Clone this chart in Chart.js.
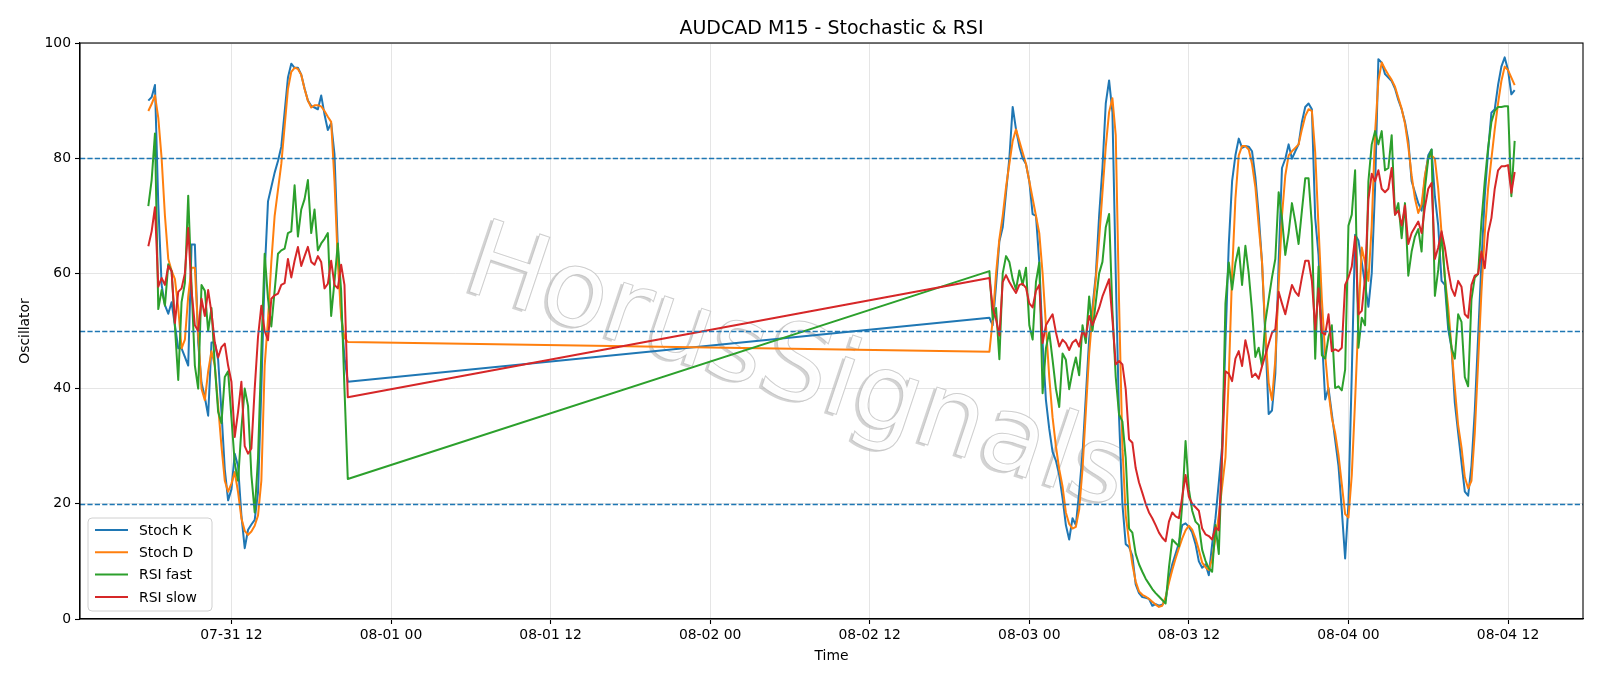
<!DOCTYPE html>
<html>
<head>
<meta charset="utf-8">
<script src="https://cdn.jsdelivr.net/npm/chart.js@4.4.0/dist/chart.umd.min.js"></script>
<style>
  html, body { margin: 0; padding: 0; background: #fff; }
  #wrap { width: 1600px; height: 686px; }
</style>
</head>
<body>
<div id="wrap"><canvas id="chart" width="1600" height="686"></canvas></div>
<script>
// time axis in hours from 07-31 00:00, M15 bars
const start1 = 5.75;   // 07-31 05:45
const start2 = 69;     // 08-02 21:00
const step = 0.25;

const tickHours = [12, 24, 36, 48, 60, 72, 84, 96, 108];
const tickLabels = ['07-31 12', '08-01 00', '08-01 12', '08-02 00', '08-02 12', '08-03 00', '08-03 12', '08-04 00', '08-04 12'];
const levels = [20, 50, 80];

const seriesNames = ['Stoch K', 'Stoch D', 'RSI fast', 'RSI slow'];
const seriesColors = ['#1f77b4', '#ff7f0e', '#2ca02c', '#d62728'];

// segment 1 : 07-31 05:45 -> 20:45
const stochK1 = [90.0,90.6,92.7,72,58,54.5,53,55,51,47,
  47,45.5,44,65,65,48,41,38.5,35.3,48,
  48,45,36,26,20.6,22.5,28.7,26.5,18,12.3,
  15.5,16.4,17.2,22,40,60,72.5,75,77.5,79.5,
  82,88,94,96.4,95.7,95.7,94.5,92.1,90,89.1,
  88.8,88.5,90.9,87.6,84.9,86.1,80.7,64.6,53.2,45.4,
  41.2];
const stochD1 = [88.2,89.4,90.9,87,80,70,62.5,60.5,59,54,
  47,48.5,56,61,61,49.6,40,38,43,46.5,
  44,37,30,24,22.1,23.5,25.5,22,17.5,15.3,
  14.6,15.2,16.2,18,24,44,52,62,70,74.5,
  79,85.5,92,95,95.7,95.5,94.5,92,90,88.8,
  89.2,89.2,89,88.2,87.2,86.3,76,62,52.5,48.8,
  48.1];
const rsiFast1 = [71.7,76.2,84.3,53.8,57.1,54.4,61.6,60.4,50.8,41.5,
  55,58.3,73.5,58,44,40,58,57,50,54,
  44,36,34,42,43,35,27,24,33,40,
  37,25,18.5,28,46.6,63.4,55.6,50.8,57,63.4,
  64,64.3,67,67.3,75.3,66.4,71.1,72.9,76.2,67,
  71.1,64,65.2,66,67,52.6,58.6,65.2,57,40,
  24.3];
const rsiSlow1 = [64.7,67.3,71.5,57.7,59.2,58,61.3,60.4,51.4,56.8,
  57.4,60,67.9,57,51,50,55.6,52.6,57.1,53.2,
  48,45.4,47.2,47.8,44,41.2,31.6,36,41.2,30,
  28.7,29.6,40,49,54.4,50,48.4,55.6,56.2,56.5,
  58,58.3,62.5,59.3,62.2,64.6,61.3,63,64.6,62,
  61.5,63,62,57.4,58.2,62.2,58,57.4,61.5,58,
  38.5];

// segment 2 : 08-02 21:00 -> 08-04 12:30
const stochK2 = [52.3,51,58,65.6,68,74,80,88.9,85,82,
  80,79,76,70.3,70,62,48,38,33,29,
  27.5,25,21,16.3,13.8,17.5,16.3,22,28.7,38.6,
  48.6,54.1,59.7,70,78.3,89.5,93.5,88,60,35,
  20,13,12.5,11,6,4.5,3.8,3.7,3.5,2.3,
  2.6,2.3,2.5,3.3,7,9.5,11.3,13.2,16.3,16.6,
  16,15,13,10,8.9,9.5,7.6,13,17.5,23.7,
  30,48,65,76,80.5,83.4,81.8,82.1,82,81.2,
  76.7,70.2,61.9,49,35.6,36.2,42.6,61.9,78.3,79.9,
  82.4,79.9,81.2,82.4,86.3,88.9,89.5,88.5,69.6,63.2,
  49,38.1,40.1,35.6,31.1,26.6,18.9,10.5,20.1,42.6,
  66.7,65.7,62,58,54.2,60,74.7,97.2,96.6,94.6,
  94,93.4,92.1,90.1,88.5,86.3,83.1,76,74.1,72.2,
  70.9,76.7,80.5,81.5,73.4,68.3,58.7,58,50.3,47.1,
  37.5,32.3,27.2,22.1,21.4,26.6,36.2,49,61.9,73.4,
  81.2,87.9,88.5,92.7,95.9,97.5,95.3,91.1,91.8];
const stochD2 = [46.4,52,60,66,70,75,79,83,85,83,
  81,79,76,73,70,67,60,51,42,35,
  30,26,23,18.5,16.5,15.7,16,19,26,36,
  46,53,59,66,74,82,88,90.4,84,55,
  30,18,13.5,9.5,6.5,4.8,4.2,3.9,3.5,3,
  2.5,2.1,2.3,3.8,6.3,8.5,10.5,12.3,14,15.4,
  16.2,15.5,14,12,9.8,9,8.5,10.5,14,18,
  23,28,42,60,73,80.5,82.1,82.1,81.5,79,
  75,68.3,62,50,41,38,45,58,70,77,
  80.5,81.2,81.8,82.4,85,87.3,88.5,88.2,81,68,
  55.5,45.8,39.4,34.9,32.3,28.5,23.4,18.2,17.6,25,
  38,52,64.5,61.9,58.7,68.3,84.4,93.4,96.6,95.5,
  94.5,93.6,92.4,90.5,88.6,86,82,77,73,70.5,
  72,77,80,80.5,79.9,74.7,67,59.3,54.2,47.1,
  40.1,33.6,29.8,24.6,22.7,24,32.3,44.5,56.8,67,
  74.7,79.9,85,89.5,93.4,95.9,95.3,94,92.7];
const rsiFast2 = [60.4,52,54,45.1,60,63,62,59,57.2,60.5,
  58,61,51,48.5,58.5,61.9,39.2,47,49.8,45,
  40,36.8,46.1,45,39.9,43,45.4,42.3,51,47.9,
  56,50,55,60,62,68,70.3,53.5,42,35.5,
  34.3,28,15.7,15,11.3,9.5,8.2,7,6.1,5.2,
  4.5,3.9,3.3,2.7,8.9,13.8,13.2,12.6,20,30.9,
  22.5,18.8,16.9,16.3,12,10.1,8.8,8.2,16.3,11.3,
  28.7,54.8,61.9,57.2,61.8,64.5,58,64.8,60,53.5,
  45.5,47.1,43.9,51.6,55.5,59.3,62.5,74.1,69.6,63.2,
  67,72.2,69,65.1,70.9,76.5,76.5,68.3,45.2,61.2,
  45.8,45.2,49,51,40.1,40.4,39.7,43.3,68.3,70.2,
  77.9,47.1,52.3,51,76,82.4,84.7,82.4,84.7,77.9,
  78.3,84,70.2,72.2,66.1,72.2,59.6,63.8,66.4,67.7,
  63.8,74.7,79.9,81.5,56.1,60.6,67,59.3,51.6,47.1,
  45.2,52.9,51.6,42,40.4,55.5,59.3,59.9,69,76,
  81.8,86.3,88.2,88.9,88.9,89,89,73.4,83];
const rsiSlow2 = [59.2,54,52,49.2,58.5,59.7,58.5,57.5,56.6,58,
  58.2,57.5,54.8,54.1,57,58,47.9,51,52,52.9,
  49.8,47.3,48.5,47.9,46.7,48,48.5,47.3,50,49,
  52.6,51,52.5,54,56,57.5,59,52,44.2,44.8,
  44.2,39.9,31.2,30.6,26.2,23.7,21.9,20,18.5,17.5,
  16.3,15,14.1,13.5,16.9,18.5,17.8,17.5,21.2,25,
  21.2,20,19.4,18.8,15.7,14.7,14.4,13.8,15.9,15.4,
  28.7,43,42.6,41.3,45.2,46.5,43.9,48.4,45.8,42,
  42.6,41.7,43.9,45.8,47.8,49.7,50.3,56.8,54.8,52.9,
  55.5,58,56.8,56.1,59.3,62.2,62.2,58.7,50.3,57.4,
  49.7,49.4,52.9,46.5,46.8,46.5,47.1,58,59.3,61.2,
  66.4,52.9,53.5,59.3,72.8,77.3,76,77.9,74.7,74.1,
  74.7,78.3,70.2,70.9,68.3,71.8,65.1,67,68,69,
  67,71.5,74.7,75.7,62.5,64.5,67.3,64.5,60.6,57.4,
  56.1,58.7,57.7,52.9,52.3,58,59.6,59.9,63.8,60.9,
  67,69.6,74.7,77.9,78.6,78.6,78.8,74,77.6];

const FONT = 'DejaVu Sans';

function buildPoints(s1, s2) {
  const pts = [];
  s1.forEach((v, i) => pts.push({ x: start1 + i * step, y: v }));
  s2.forEach((v, i) => pts.push({ x: start2 + i * step, y: v }));
  return pts;
}

const seriesData = [
  buildPoints(stochK1, stochK2),
  buildPoints(stochD1, stochD2),
  buildPoints(rsiFast1, rsiFast2),
  buildPoints(rsiSlow1, rsiSlow2)
];

// matplotlib style 5% margins on x
const firstX = start1;
const lastX = start2 + (stochK2.length - 1) * step;
const xMin = firstX - 0.05 * (lastX - firstX);
const xMax = lastX + 0.05 * (lastX - firstX);

// watermark under the lines
const watermark = {
  id: 'watermark',
  beforeDatasetsDraw(chart) {
    const c = chart.ctx;
    c.save();
    c.translate(796, 372);
    c.rotate(18.5 * Math.PI / 180);
    c.font = '106px ' + FONT;
    c.textAlign = 'center';
    c.textBaseline = 'middle';
    c.fillStyle = 'rgba(175,175,175,0.55)';
    c.fillText('HorusSignals', -2.5, 2.5);
    c.fillStyle = 'rgba(255,255,255,0.95)';
    c.fillText('HorusSignals', 0, 0);
    c.strokeStyle = 'rgba(185,185,185,0.7)';
    c.lineWidth = 1;
    c.strokeText('HorusSignals', 0, 0);
    c.restore();
  }
};

// dashed levels, frame, title, legend
const extras = {
  id: 'extras',
  afterDatasetsDraw(chart) {
    const c = chart.ctx;
    const a = chart.chartArea;
    const y = chart.scales.y;
    c.save();
    c.strokeStyle = '#1f77b4';
    c.lineWidth = 1.4;
    c.setLineDash([5.2, 2.2]);
    levels.forEach(v => {
      const py = Math.round(y.getPixelForValue(v)) + 0.5;
      c.beginPath();
      c.moveTo(a.left, py);
      c.lineTo(a.right, py);
      c.stroke();
    });
    c.restore();
  },
  afterDraw(chart) {
    const c = chart.ctx;
    const a = chart.chartArea;
    c.save();
    // frame
    c.strokeStyle = '#000';
    c.lineWidth = 1.1;
    c.strokeRect(a.left, a.top, a.right - a.left, a.bottom - a.top);
    // title
    c.fillStyle = '#000';
    c.font = '19px ' + FONT;
    c.textAlign = 'center';
    c.textBaseline = 'alphabetic';
    c.fillText('AUDCAD M15 - Stochastic & RSI', (a.left + a.right) / 2, 33.5);
    // legend
    const bx = a.left + 8, by = a.bottom - 101, bw = 124, bh = 93;
    c.beginPath();
    c.roundRect(bx, by, bw, bh, 4);
    c.fillStyle = 'rgba(255,255,255,0.8)';
    c.fill();
    c.strokeStyle = '#d0d0d0';
    c.lineWidth = 1;
    c.stroke();
    c.font = '13.9px ' + FONT;
    c.textAlign = 'left';
    c.textBaseline = 'middle';
    seriesNames.forEach((name, i) => {
      const ly = by + 12 + i * 22.3;
      c.strokeStyle = seriesColors[i];
      c.lineWidth = 2;
      c.beginPath();
      c.moveTo(bx + 7, ly);
      c.lineTo(bx + 40, ly);
      c.stroke();
      c.fillStyle = '#000';
      c.fillText(name, bx + 51, ly + 1);
    });
    c.restore();
  }
};

const ctx = document.getElementById('chart').getContext('2d');

const chart = new Chart(ctx, {
  type: 'line',
  data: {
    datasets: seriesNames.map((name, i) => ({
      label: name,
      data: seriesData[i],
      borderColor: seriesColors[i],
      backgroundColor: seriesColors[i],
      borderWidth: 2,
      pointRadius: 0,
      tension: 0,
      fill: false,
      borderJoinStyle: 'round',
      order: 4 - i
    }))
  },
  options: {
    responsive: false,
    animation: false,
    devicePixelRatio: 1,
    layout: { padding: { top: 43, right: 17, left: 0, bottom: 0 } },
    plugins: {
      legend: { display: false },
      tooltip: { enabled: false },
      title: { display: false }
    },
    scales: {
      x: {
        type: 'linear',
        min: xMin,
        max: xMax,
        afterBuildTicks: s => { s.ticks = tickHours.map(v => ({ value: v })); },
        afterFit: s => { s.height = 67; },
        ticks: {
          callback: (v, i) => tickLabels[i],
          font: { family: FONT, size: 13.9 },
          color: '#000',
          padding: 3,
          maxRotation: 0,
          autoSkip: false
        },
        grid: { color: '#e5e5e5', lineWidth: 1, tickColor: '#000', tickLength: 5, tickWidth: 1.1 },
        border: { display: true, color: '#000', width: 1.1 },
        title: {
          display: true, text: 'Time', color: '#000',
          font: { family: FONT, size: 13.9 },
          padding: { top: 0, bottom: 21 }
        }
      },
      y: {
        min: 0,
        max: 100,
        afterFit: s => { s.width = 80; },
        ticks: {
          stepSize: 20,
          font: { family: FONT, size: 13.9 },
          color: '#000',
          padding: 4
        },
        grid: { color: '#e5e5e5', lineWidth: 1, tickColor: '#000', tickLength: 5, tickWidth: 1.1 },
        border: { display: true, color: '#000', width: 1.1 },
        title: {
          display: true, text: 'Oscillator', color: '#000',
          font: { family: FONT, size: 13.9 },
          padding: { top: 17, bottom: 0 }
        }
      }
    }
  },
  plugins: [watermark, extras]
});
</script>
</body>
</html>
